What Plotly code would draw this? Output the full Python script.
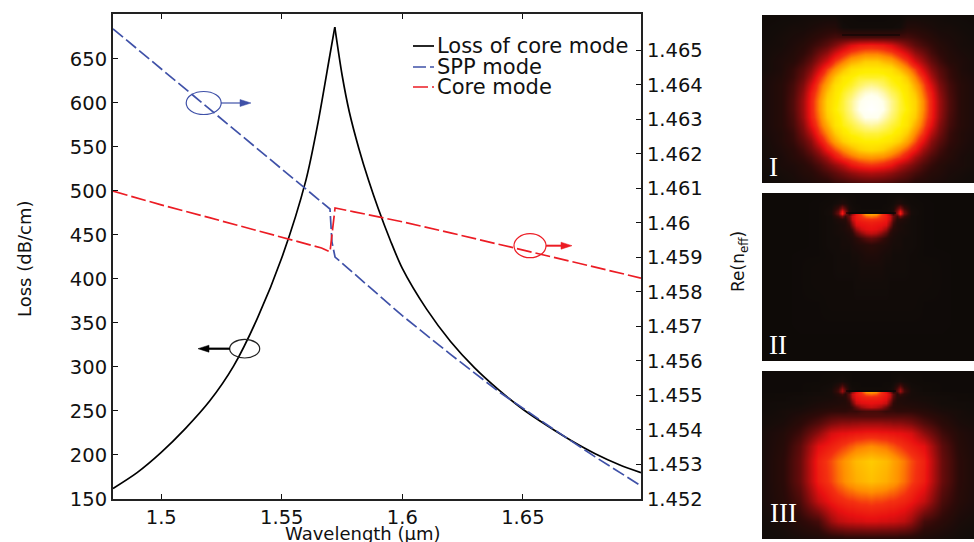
import plotly.graph_objects as go

W, H = 974, 542

# ---- main chart data ----
loss_left_wl = [1.48, 1.49, 1.50, 1.51, 1.52, 1.53, 1.54, 1.55, 1.56, 1.565, 1.57, 1.572]
loss_left_val = [162, 180, 203, 230, 261, 301, 356, 424, 512, 577, 655, 686]
loss_right_wl = [1.572, 1.575, 1.578, 1.582, 1.586, 1.59, 1.595, 1.60, 1.61, 1.62, 1.63, 1.64, 1.65, 1.66,
                 1.67, 1.68, 1.69, 1.699]
loss_right_val = [686, 632, 590, 548, 512, 480, 444, 412, 366, 329, 299, 274, 252, 233.5,
                  216.5, 201.5, 189, 180]
spp_wl = [1.48, 1.50, 1.52, 1.54, 1.56, 1.5684, 1.57, 1.5708, 1.5721, 1.58, 1.59, 1.60, 1.62, 1.64, 1.66, 1.68, 1.699]
spp_val = [1.46562, 1.46446, 1.46330, 1.46214, 1.46098, 1.46049, 1.46040, 1.45945, 1.45901, 1.45853, 1.45792,
           1.45731, 1.45619, 1.45511, 1.45415, 1.45322, 1.45238]
core_wl = [1.48, 1.50, 1.52, 1.54, 1.56, 1.5665, 1.57, 1.5721, 1.58, 1.59, 1.60, 1.62, 1.64, 1.66, 1.68, 1.699]
core_val = [1.46092, 1.46052, 1.46015, 1.45978, 1.45939, 1.45927, 1.45916, 1.46043, 1.46032, 1.46018, 1.46003,
            1.45971, 1.45938, 1.45904, 1.45870, 1.45840]
x_ticks = [1.5, 1.55, 1.6, 1.65]
x_tick_labels = ["1.5", "1.55", "1.6", "1.65"]
y_ticks = [150, 200, 250, 300, 350, 400, 450, 500, 550, 600, 650]
y2_ticks = [1.452, 1.453, 1.454, 1.455, 1.456, 1.457, 1.458, 1.459, 1.46, 1.461, 1.462, 1.463, 1.464, 1.465]
y2_tick_labels = ["1.452", "1.453", "1.454", "1.455", "1.456", "1.457", "1.458", "1.459", "1.46",
                  "1.461", "1.462", "1.463", "1.464", "1.465"]
legend_names = ["Loss of core mode", "SPP mode", "Core mode"]

# ---- field maps: half rows, mirrored about the centre column ----
p1_dx = [-110, -90, -78, -68, -60, -52, -44, -36, -28, -20, -12, -6, 0]
p1_y = [0, 12, 22, 30, 38, 46, 54, 62, 70, 78, 86, 94, 102, 110, 118, 126, 134, 142, 150, 158, 168]
p1_half = [
    [.03, .04, .04, .05, .05, .05, .05, .05, .03, .03, .02, .02, .02],
    [.04, .05, .06, .06, .07, .08, .09, .09, .05, .04, .04, .04, .04],
    [.04, .06, .07, .08, .10, .12, .14, .16, .16, .16, .16, .16, .16],
    [.05, .06, .08, .10, .13, .16, .20, .26, .33, .40, .44, .45, .46],
    [.05, .07, .09, .12, .16, .23, .29, .39, .47, .53, .56, .58, .58],
    [.05, .08, .10, .15, .21, .30, .39, .51, .58, .65, .68, .71, .71],
    [.05, .08, .13, .19, .27, .39, .52, .61, .69, .76, .78, .79, .79],
    [.06, .09, .14, .22, .33, .48, .59, .70, .78, .80, .82, .82, .82],
    [.06, .10, .16, .26, .40, .54, .65, .76, .80, .82, .85, .87, .88],
    [.06, .10, .17, .29, .45, .57, .70, .78, .82, .85, .90, .93, .94],
    [.06, .10, .18, .31, .47, .60, .73, .79, .83, .88, .94, .97, .98],
    [.06, .10, .18, .31, .47, .60, .73, .80, .83, .88, .95, .98, 1.0],
    [.06, .10, .17, .30, .46, .58, .71, .78, .82, .86, .91, .95, .95],
    [.06, .10, .16, .27, .42, .55, .66, .77, .81, .83, .86, .88, .89],
    [.06, .09, .14, .24, .35, .50, .60, .71, .78, .81, .82, .83, .83],
    [.05, .09, .13, .20, .28, .42, .54, .64, .72, .77, .79, .80, .80],
    [.05, .08, .11, .16, .23, .32, .45, .54, .61, .67, .72, .74, .75],
    [.05, .07, .10, .13, .17, .24, .32, .43, .51, .56, .60, .61, .62],
    [.05, .07, .08, .10, .13, .17, .23, .29, .35, .43, .47, .49, .50],
    [.04, .06, .07, .09, .10, .13, .16, .20, .24, .28, .31, .32, .33],
    [.04, .05, .06, .07, .08, .09, .10, .13, .14, .16, .17, .18, .18],
]
p23_dx = [-110, -88, -71, -53, -40, -33, -29, -26, -22, -19, -15, -10, -5, 0]
p23_y = [0, 10, 15, 18, 20, 21, 23, 26, 29, 32, 36, 40, 45, 52, 62, 75, 90, 110, 130, 150, 168]
p2_half = [
    [.02, .02, .02, .02, .03, .03, .03, .03, .03, .03, .03, .03, .03, .03],
    [.02, .02, .02, .03, .04, .06, .08, .07, .05, .04, .03, .03, .03, .03],
    [.02, .02, .02, .03, .05, .14, .26, .18, .07, .05, .04, .03, .03, .03],
    [.02, .02, .02, .03, .06, .20, .42, .26, .08, .05, .04, .04, .04, .04],
    [.02, .02, .02, .03, .06, .22, .46, .28, .08, .05, .04, .04, .04, .04],
    [.02, .02, .02, .03, .06, .20, .42, .24, .14, .30, .44, .52, .62, .64],
    [.02, .02, .02, .03, .05, .14, .24, .14, .22, .37, .45, .50, .56, .58],
    [.02, .02, .02, .03, .05, .08, .10, .10, .20, .36, .44, .47, .49, .50],
    [.02, .02, .02, .03, .05, .07, .08, .09, .16, .30, .42, .44, .45, .46],
    [.02, .02, .02, .03, .05, .06, .07, .08, .13, .25, .39, .42, .43, .44],
    [.02, .02, .02, .03, .05, .06, .07, .08, .10, .16, .30, .38, .41, .42],
    [.02, .02, .02, .03, .05, .06, .06, .07, .08, .11, .20, .28, .34, .36],
    [.02, .02, .02, .03, .05, .05, .06, .06, .07, .08, .11, .15, .19, .21],
    [.02, .02, .02, .03, .05, .05, .06, .06, .06, .07, .08, .09, .10, .11],
    [.02, .02, .03, .03, .04, .05, .05, .05, .05, .06, .06, .07, .08, .08],
    [.02, .02, .03, .04, .04, .05, .05, .05, .05, .05, .05, .06, .06, .06],
    [.02, .02, .03, .04, .04, .04, .04, .04, .04, .04, .05, .05, .05, .05],
    [.02, .02, .03, .03, .04, .04, .04, .04, .04, .04, .04, .04, .04, .04],
    [.02, .02, .03, .03, .03, .03, .03, .03, .03, .03, .03, .03, .03, .03],
    [.02, .02, .02, .02, .02, .02, .02, .02, .02, .02, .02, .02, .02, .02],
    [.02, .02, .02, .02, .02, .02, .02, .02, .02, .02, .02, .02, .02, .02],
]
p3_half = [
    [.02, .03, .03, .03, .03, .03, .03, .03, .03, .03, .03, .03, .03, .03],
    [.03, .03, .03, .03, .04, .05, .06, .05, .04, .03, .03, .03, .03, .03],
    [.03, .03, .03, .04, .05, .10, .18, .12, .06, .04, .04, .03, .03, .03],
    [.03, .03, .03, .04, .06, .14, .28, .17, .07, .05, .04, .04, .04, .04],
    [.03, .03, .03, .04, .06, .15, .30, .18, .07, .05, .04, .04, .04, .04],
    [.03, .03, .04, .05, .06, .14, .26, .15, .12, .28, .42, .50, .60, .62],
    [.03, .04, .04, .05, .06, .10, .15, .10, .20, .36, .44, .48, .54, .56],
    [.03, .04, .05, .06, .06, .08, .09, .10, .18, .34, .42, .45, .47, .48],
    [.04, .04, .05, .06, .07, .08, .08, .09, .15, .28, .40, .43, .44, .44],
    [.04, .05, .05, .07, .08, .08, .09, .09, .12, .22, .36, .40, .41, .42],
    [.04, .05, .06, .08, .09, .10, .10, .10, .11, .14, .22, .30, .34, .36],
    [.04, .06, .07, .10, .12, .12, .12, .12, .13, .13, .13, .15, .16, .16],
    [.05, .06, .09, .13, .17, .18, .18, .18, .18, .18, .18, .18, .18, .18],
    [.05, .07, .11, .18, .25, .27, .28, .28, .28, .29, .29, .30, .30, .30],
    [.06, .09, .15, .28, .39, .41, .42, .42, .43, .43, .44, .44, .45, .45],
    [.06, .10, .20, .41, .46, .49, .51, .52, .54, .55, .57, .58, .59, .60],
    [.06, .11, .22, .46, .53, .58, .60, .62, .64, .66, .68, .69, .70, .71],
    [.06, .11, .22, .45, .52, .57, .59, .61, .63, .64, .66, .67, .68, .69],
    [.06, .10, .17, .36, .44, .47, .48, .49, .50, .50, .51, .52, .52, .53],
    [.05, .07, .11, .16, .30, .35, .36, .37, .38, .38, .39, .39, .40, .40],
    [.04, .05, .06, .07, .08, .08, .08, .09, .09, .09, .09, .09, .09, .09],
]
panel_labels = ["I", "II", "III"]
plate_halfwidths = [29, 25, 25]

heat_scale = [[0, "#0a0806"], [.05, "#130c09"], [.12, "#2e0a08"], [.25, "#7a0c0c"], [.42, "#e81010"],
              [.5, "#f43010"], [.6, "#ff8c00"], [.72, "#ffd000"], [.8, "#ffee00"], [.84, "#fff350"],
              [.9, "#fff8b0"], [.95, "#ffffee"], [1, "#ffffff"]]


def mirror(rows):
    return [r + r[-2::-1] for r in rows]


def mirror_x(dx):
    return dx + [-v for v in dx[-2::-1]]


def px(x):
    return x / W


def py(y):
    return 1 - y / H


BLUE, RED = "#3f51a8", "#ec1c24"
fig = go.Figure()
fig.add_trace(go.Scatter(x=loss_left_wl, y=loss_left_val, mode="lines", name=legend_names[0],
                         line=dict(color="#000000", width=1.7, shape="spline", smoothing=0.8), showlegend=False))
fig.add_trace(go.Scatter(x=loss_right_wl, y=loss_right_val, mode="lines", name=legend_names[0],
                         line=dict(color="#000000", width=1.7, shape="spline", smoothing=0.8), showlegend=False))
fig.add_trace(go.Scatter(x=spp_wl, y=spp_val, mode="lines", name=legend_names[1], yaxis="y2",
                         line=dict(color=BLUE, width=1.7, dash="13px,4px"), showlegend=False))
fig.add_trace(go.Scatter(x=core_wl, y=core_val, mode="lines", name=legend_names[2], yaxis="y2",
                         line=dict(color=RED, width=1.7, dash="15px,4px"), showlegend=False))

panels = [
    (15, mirror_x(p1_dx), p1_y, mirror(p1_half), "x2", "y3", "xaxis2", "yaxis3"),
    (193, mirror_x(p23_dx), p23_y, mirror(p2_half), "x3", "y4", "xaxis3", "yaxis4"),
    (371, mirror_x(p23_dx), p23_y, mirror(p3_half), "x4", "y5", "xaxis4", "yaxis5"),
]
layout_axes = {}
for (top, dx, ys, z, xa, ya, xname, yname), hw in zip(panels, plate_halfwidths):
    fig.add_trace(go.Heatmap(x=dx, y=ys, z=z, xaxis=xa, yaxis=ya, zmin=0, zmax=1, zsmooth="best",
                             colorscale=heat_scale, showscale=False, hoverinfo="skip"))
    fig.add_trace(go.Scatter(x=[-hw, hw], y=[20, 20], xaxis=xa, yaxis=ya, mode="lines",
                             line=dict(color="#050505", width=1.2), showlegend=False, hoverinfo="skip"))
    layout_axes[xname] = dict(domain=[px(762), px(974)], range=[-109, 103], visible=False, anchor=ya)
    layout_axes[yname] = dict(domain=[py(top + 168), py(top)], range=[168, 0], visible=False, anchor=xa)

shapes, annotations = [], []


def ring(cx, cy, rx, ry, color):
    shapes.append(dict(type="circle", xref="paper", yref="paper", x0=px(cx - rx), x1=px(cx + rx),
                       y0=py(cy + ry), y1=py(cy - ry), line=dict(color=color, width=1.2)))


def arrow(x0, x1, y, color, width):
    step = 11 if x1 > x0 else -11
    shapes.append(dict(type="line", xref="paper", yref="paper", x0=px(x0), x1=px(x1 - step), y0=py(y), y1=py(y),
                       line=dict(color=color, width=width)))
    shapes.append(dict(type="path", xref="paper", yref="paper", fillcolor=color, line=dict(color=color, width=0.5),
                       path=f"M {px(x1)} {py(y)} L {px(x1 - step)} {py(y - 3.5)} L {px(x1 - step)} {py(y + 3.5)} Z"))


ring(203.7, 103, 17.5, 11.5, BLUE)
arrow(221, 251, 103, BLUE, 1.2)
ring(530, 245.7, 16, 12, RED)
arrow(546, 572, 245.7, RED, 2)
ring(244.7, 348.7, 15, 9.3, "#222222")
arrow(230, 198, 348.7, "#000000", 2.2)

# legend drawn to the reference's tight row spacing
for name, ly, color, dash in zip(legend_names, [46, 67, 87], ["#000000", BLUE, RED],
                                 ["solid", "13px,4px", "15px,4px"]):
    shapes.append(dict(type="line", xref="paper", yref="paper", x0=px(413), x1=px(434), y0=py(ly), y1=py(ly),
                       line=dict(color=color, width=1.7, dash=dash)))
    annotations.append(dict(xref="paper", yref="paper", x=px(435), y=py(ly), text=name, showarrow=False,
                            xanchor="left", yanchor="middle", font=dict(size=21, color="#111111")))

for label, top, lx in zip(panel_labels, [167, 345, 513], [773, 778, 783]):
    annotations.append(dict(xref="paper", yref="paper", x=px(lx), y=py(top), text=label, showarrow=False,
                            xanchor="center", yanchor="middle",
                            font=dict(family="Liberation Serif", size=27, color="#ffffff")))

annotations.append(dict(xref="paper", yref="paper", x=px(739), y=py(262), text="Re(n<sub>eff</sub>)", showarrow=False,
                        textangle=-90, xanchor="center", yanchor="middle", font=dict(size=17, color="#111111")))
annotations.append(dict(xref="paper", yref="paper", x=px(24), y=py(259), text="Loss (dB/cm)", showarrow=False,
                        textangle=-90, xanchor="center", yanchor="middle", font=dict(size=18, color="#111111")))
annotations.append(dict(xref="paper", yref="paper", x=px(363), y=py(533), text="Wavelength (μm)", showarrow=False,
                        xanchor="center", yanchor="middle", font=dict(size=18, color="#111111")))

axis_style = dict(showgrid=False, zeroline=False, showline=True, linecolor="#222222", linewidth=2,
                  ticks="inside", ticklen=5, tickwidth=1, tickcolor="#111111",
                  tickfont=dict(size=19.5, color="#111111"))
fig.update_layout(
    width=W, height=H, margin=dict(l=0, r=0, t=0, b=0, autoexpand=False),
    paper_bgcolor="#ffffff", plot_bgcolor="#ffffff",
    font=dict(family="DejaVu Sans"), showlegend=False,
    xaxis=dict(domain=[px(113), px(641)], range=[1.48, 1.699], tickvals=x_ticks, ticktext=x_tick_labels,
               mirror="ticks", anchor="y", **axis_style),
    yaxis=dict(domain=[py(499), py(14)], range=[150, 701], tickvals=y_ticks, anchor="x", **axis_style),
    yaxis2=dict(domain=[py(499), py(14)], range=[1.452, 1.46605], tickvals=y2_ticks, ticktext=y2_tick_labels,
                overlaying="y", side="right", anchor="x", **axis_style),
    shapes=shapes, annotations=annotations, **layout_axes,
)
fig.write_html("out.html", config=dict(displayModeBar=False),
               post_script="document.body.style.margin='0';document.documentElement.style.overflow='hidden';")
